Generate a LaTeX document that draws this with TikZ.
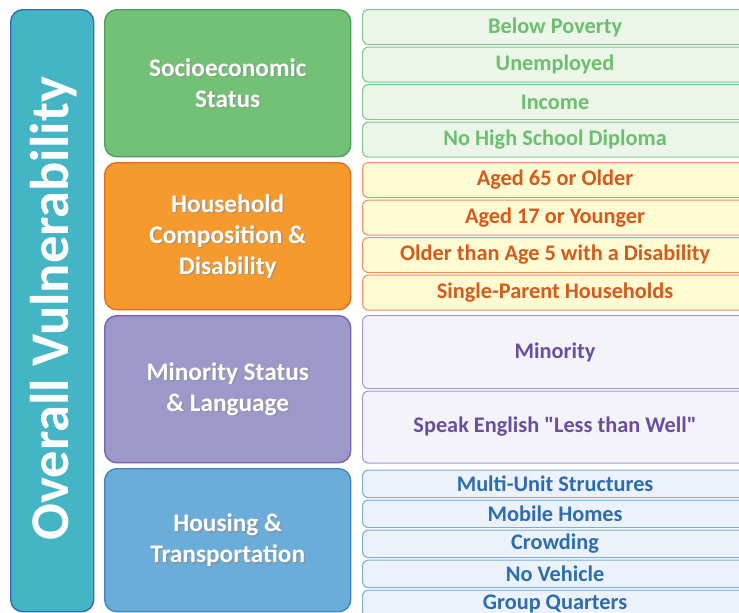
\documentclass[tikz,border=0pt]{standalone}
\usepackage{fontspec}
\setmainfont{Carlito}[Ligatures=TeXOff]
\definecolor{ovfill}{HTML}{43B5C4}
\definecolor{ovdraw}{HTML}{2F6EB4}
\definecolor{gfill}{HTML}{72C174}
\definecolor{gdraw}{HTML}{4FA05C}
\definecolor{ofill}{HTML}{F79A2E}
\definecolor{odraw}{HTML}{E06E22}
\definecolor{pfill}{HTML}{9C98C9}
\definecolor{pdraw}{HTML}{7B62AD}
\definecolor{bfill}{HTML}{6AADD8}
\definecolor{bdraw}{HTML}{3F87C3}
\definecolor{gifill}{HTML}{EBF6E9}
\definecolor{gidraw}{HTML}{80C58D}
\definecolor{gitext}{HTML}{6CBF6E}
\definecolor{oifill}{HTML}{FFFBD2}
\definecolor{oidraw}{HTML}{EE9263}
\definecolor{oitext}{HTML}{D65A1C}
\definecolor{pifill}{HTML}{F4F3FA}
\definecolor{pidraw}{HTML}{A698CF}
\definecolor{pitext}{HTML}{6A4D9F}
\definecolor{bifill}{HTML}{EBF2FC}
\definecolor{bidraw}{HTML}{7BAEDB}
\definecolor{bitext}{HTML}{2D6DAF}
\tikzset{
  catbox/.style={rounded corners=12pt, line width=1.4pt, anchor=north west, inner sep=0pt},
  cattext/.style={text=white, font=\bfseries\fontsize{25.3}{31}\selectfont, align=center},
  catshadow/.style={text=black!45, font=\bfseries\fontsize{25.3}{31}\selectfont, align=center, opacity=0.6},
  itembox/.style={rounded corners=6pt, line width=1.1pt, anchor=north west, inner sep=0pt, minimum width=385pt,
    font=\bfseries\fontsize{22.3}{25}\selectfont},
}
\begin{document}
\begin{tikzpicture}[x=1pt,y=-1pt]
\useasboundingbox (0,0) rectangle (739,613);
\clip (0,0) rectangle (739,613);
\fill[white] (0,0) rectangle (739,613);
% overall
\node[catbox, draw=ovdraw, fill=ovfill, minimum width=83pt, minimum height=602pt] (ov) at (10,9) {};
\node[rotate=90, text=white, font=\bfseries\fontsize{54.5}{60}\selectfont] (ovt) at ([xshift=1pt, yshift=2pt]ov.center) {Overall Vulnerability};
% categories
\node[catbox, draw=gdraw, fill=gfill, minimum width=246pt, minimum height=147pt] (soc) at (104,9) {};
\node[catbox, draw=odraw, fill=ofill, minimum width=246pt, minimum height=147pt] (hh) at (104,162) {};
\node[catbox, draw=pdraw, fill=pfill, minimum width=246pt, minimum height=147pt] (mi) at (104,315) {};
\node[catbox, draw=bdraw, fill=bfill, minimum width=246pt, minimum height=143pt] (ho) at (104,468) {};
\foreach \n/\t in {soc/{Socioeconomic\\Status}, hh/{Household\\Composition \&\\Disability}, mi/{Minority Status\\\& Language}, ho/{Housing \&\\Transportation}}{
  \node[catshadow] (\n s) at ([shift={(1.5,1.5)}]\n.center) {\t};
  \node[cattext] (\n t) at (\n.center) {\t};
}
% items
\tikzset{gi/.style={itembox, draw=gidraw, fill=gifill, text=gitext},
         oi/.style={itembox, draw=oidraw, fill=oifill, text=oitext},
         pi/.style={itembox, draw=pidraw, fill=pifill, text=pitext},
         bi/.style={itembox, draw=bidraw, fill=bifill, text=bitext}}
\node[gi, minimum height=35pt] (g1) at (362,9) {Below Poverty};
\node[gi, minimum height=35pt] (g2) at (362,46.5) {Unemployed};
\node[gi, minimum height=35pt] (g3) at (362,84) {Income};
\node[gi, minimum height=35pt] (g4) at (362,121.5) {No High School Diploma};
\node[oi, minimum height=35pt] (o1) at (362,162) {Aged 65 or Older};
\node[oi, minimum height=35pt] (o2) at (362,199.5) {Aged 17 or Younger};
\node[oi, minimum height=35pt] (o3) at (362,237) {Older than Age 5 with a Disability};
\node[oi, minimum height=35pt] (o4) at (362,274.5) {Single-Parent Households};
\node[pi, minimum height=73pt] (p1) at (362,315) {Minority};
\node[pi, minimum height=72pt] (p2) at (362,390.5) {Speak English "Less than Well"};
\node[bi, minimum height=27.5pt] (b1) at (362,469.5) {Multi-Unit Structures};
\node[bi, minimum height=27.5pt] (b2) at (362,499.5) {Mobile Homes};
\node[bi, minimum height=27.5pt] (b3) at (362,529.5) {Crowding};
\node[bi, minimum height=27.5pt] (b4) at (362,559.5) {No Vehicle};
\node[bi, minimum height=27.5pt] (b5) at (362,589.5) {Group Quarters};
\end{tikzpicture}
\end{document}
